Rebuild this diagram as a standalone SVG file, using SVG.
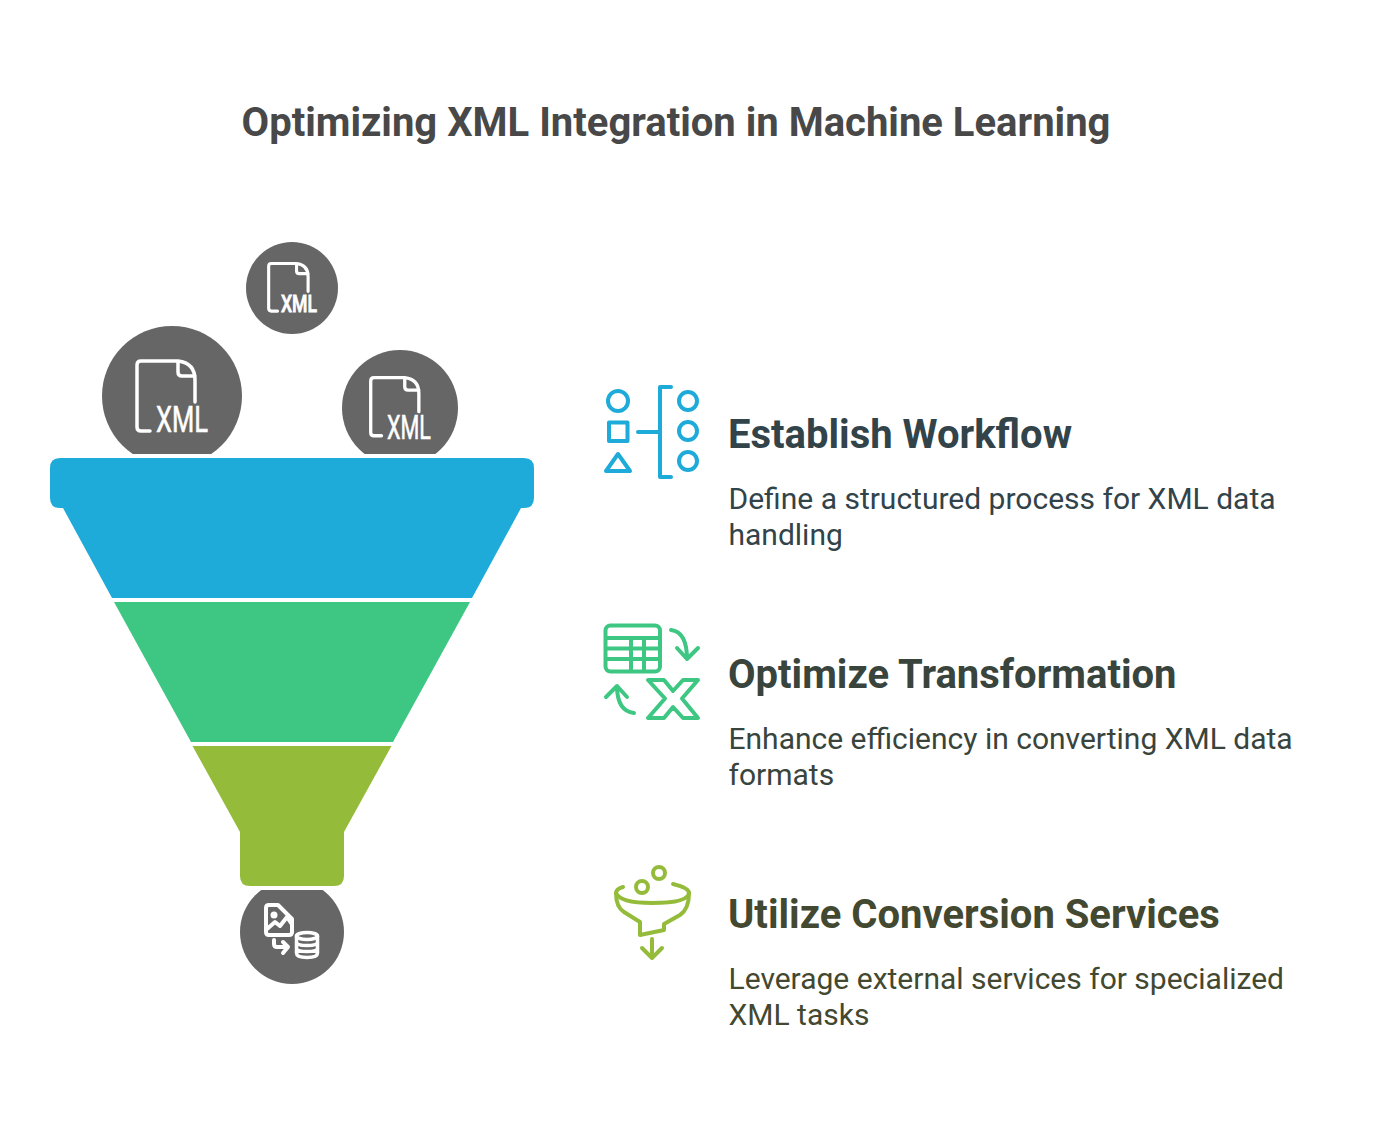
<svg xmlns="http://www.w3.org/2000/svg" width="1373" height="1128" viewBox="0 0 1373 1128">
<style>
.t{font-family:Roboto,"Liberation Sans",sans-serif}
.title{font-size:40px;font-weight:700;fill:#484848}
.h{font-size:40px;font-weight:700}
.d{font-size:30px;font-weight:400}
.badge{fill:#666666}
.w{fill:none;stroke:#ffffff;stroke-width:3.5;stroke-linecap:round;stroke-linejoin:round}
.x{fill:#ffffff;font-family:Roboto,"Liberation Sans",sans-serif;font-weight:400;stroke:#ffffff;stroke-width:.6}
.ib{fill:none;stroke:#1eabda;stroke-width:4;stroke-linecap:round;stroke-linejoin:round}
.ig{fill:none;stroke:#3dc783;stroke-width:4;stroke-linecap:round;stroke-linejoin:round}
.io{fill:none;stroke:#94bc3a;stroke-width:4;stroke-linecap:round;stroke-linejoin:round}
</style>
<defs>
<clipPath id="above"><rect x="0" y="0" width="1373" height="454"/></clipPath>
<clipPath id="below"><rect x="0" y="890" width="1373" height="238"/></clipPath>
<path id="doc" d="M150 431H141Q137 431 137 427V365Q137 361 141 361H178Q195 363 195 380V402M178 361V372Q178 376 182 376H195"/>
</defs>
<rect width="1373" height="1128" fill="#ffffff"/>
<text class="t title" x="676" y="136.300" text-anchor="middle">Optimizing XML Integration in Machine Learning</text>

<g id="funnel">
<path id="stage-1" fill="#1eabda" d="M60 458H524Q534 458 534 468V498Q534 508 524 508H521L472 598H112L63 508H60Q50 508 50 498V468Q50 458 60 458Z"/>
<path id="stage-2" fill="#3dc783" d="M114 602H470L393 742H191Z"/>
<path id="stage-3" fill="#94bc3a" d="M192.500 746H391.500L344 832V876Q344 886 334 886H250Q240 886 240 876V832Z"/>
</g>

<g id="input-top">
<circle class="badge" cx="292" cy="288" r="46"/>
<use href="#doc" class="w" transform="translate(175.500 18) scale(.68)" style="stroke-width:4.600"/>
<text class="x" x="281" y="312" font-size="24" textLength="36" lengthAdjust="spacingAndGlyphs" style="font-weight:500;stroke-width:.8">XML</text>
</g>
<g id="input-left">
<circle class="badge" cx="172" cy="396" r="70" clip-path="url(#above)"/>
<use href="#doc" class="w"/>
<text class="x" x="156" y="432" font-size="36" textLength="52" lengthAdjust="spacingAndGlyphs">XML</text>
</g>
<g id="input-right">
<circle class="badge" cx="400" cy="408" r="58" clip-path="url(#above)"/>
<use href="#doc" class="w" transform="translate(257 78) scale(.83)" style="stroke-width:4"/>
<text class="x" x="387" y="439" font-size="33" textLength="44" lengthAdjust="spacingAndGlyphs">XML</text>
</g>
<g id="output">
<circle class="badge" cx="292" cy="932" r="52" clip-path="url(#below)"/>
<path class="w" style="stroke-width:4" d="M269 905H278L292 919V932Q292 935 289 935H269Q266 935 266 932V908Q266 905 269 905Z"/>
<circle cx="274" cy="915" r="3.500" fill="#ffffff"/>
<path class="w" style="stroke-width:4" d="M267 929L275 922L280 926L287 917L291 923M274 940V944Q274 947 277 947H287M283 942L288 947L283 953"/>
<ellipse class="w" cx="307" cy="936" rx="10.500" ry="3.500"/>
<path class="w" d="M296.500 936V953Q296.500 957.500 307 957.500Q317.500 957.500 317.500 953V936M296.500 942Q296.500 945.500 307 945.500Q317.500 945.500 317.500 942M296.500 948Q296.500 951.500 307 951.500Q317.500 951.500 317.500 948"/>
</g>

<g id="item-1">
<circle class="ib" cx="618" cy="401" r="10"/>
<rect class="ib" x="609" y="422.500" width="18.500" height="18.500"/>
<path class="ib" d="M618 454L630 471H606Z"/>
<path class="ib" d="M638 432H660M671 387H660V477H671"/>
<circle class="ib" cx="688" cy="401" r="9"/>
<circle class="ib" cx="688" cy="431" r="9"/>
<circle class="ib" cx="688" cy="461" r="9"/>
<text class="t h" x="728" y="448.300" fill="#324349">Establish Workflow</text>
<text class="t d" x="728.500" y="509" fill="#324349">Define a structured process for XML data</text>
<text class="t d" x="728.500" y="545" fill="#324349">handling</text>
</g>

<g id="item-2">
<rect class="ig" x="605.500" y="625.500" width="54.500" height="46" rx="5"/>
<path class="ig" d="M606 638H660M606 648.500H660M606 659H660M631 638V671M644 638V671"/>
<path class="ig" d="M671 630Q687 632 687 659M677 648L687 659L698 648"/>
<path class="ig" d="M634 713Q617 711 617 686M606 697L617 686L627 697"/>
<path class="ig" d="M648 680H664L673 691L683 680H698L682 698.500L698 718H683L673 707L664 718H648L665 698.500Z"/>
<text class="t h" x="728" y="688.300" fill="#38443c">Optimize Transformation</text>
<text class="t d" x="728.500" y="749" fill="#38443c">Enhance efficiency in converting XML data</text>
<text class="t d" x="728.500" y="785" fill="#38443c">formats</text>
</g>

<g id="item-3">
<circle class="io" cx="659" cy="873" r="6"/>
<circle class="io" cx="642" cy="887" r="6"/>
<path class="io" d="M623 887Q616 889 616 893Q620 903 652 903Q688 903 689 893Q689 888 673 884"/>
<path class="io" d="M616 893Q616 907 624 912L640 922V935L664 930V924L680 915Q689 909 689 893"/>
<path class="io" d="M652 939V957M642 948L652 958L662 948"/>
<text class="t h" x="728" y="928.300" fill="#434830">Utilize Conversion Services</text>
<text class="t d" x="728.500" y="989" fill="#434830">Leverage external services for specialized</text>
<text class="t d" x="728.500" y="1025" fill="#434830">XML tasks</text>
</g>
</svg>
